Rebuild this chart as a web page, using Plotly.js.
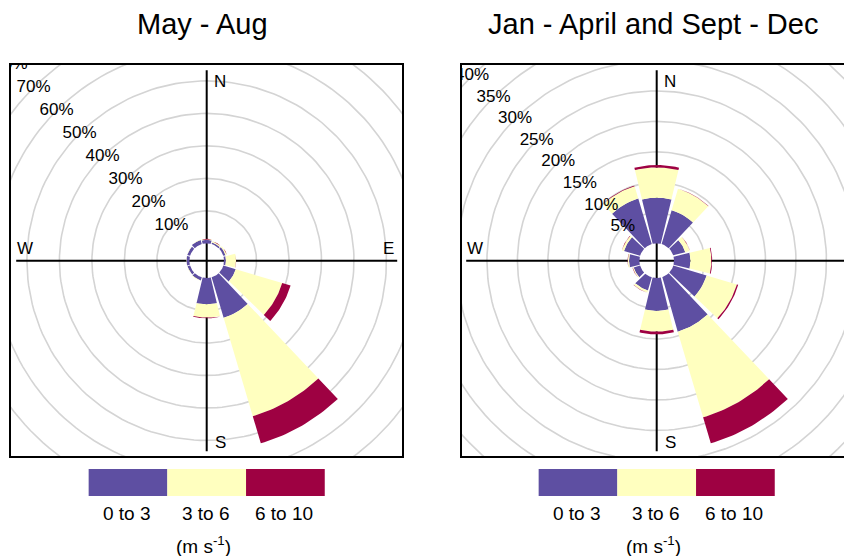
<!DOCTYPE html>
<html><head><meta charset="utf-8">
<script src="https://cdn.plot.ly/plotly-3.0.1.min.js"></script>
<style>html,body{margin:0;padding:0;background:#fff}#chart{width:844px;height:556px}</style>
</head><body><div id="chart"></div>
<script>
// ---------- data (percent of hours, by wind direction sector) ----------
const directions = [0, 30, 60, 90, 120, 150, 180, 210, 240, 270, 300, 330];
const speedBins = ["0 to 3", "3 to 6", "6 to 10"];
const speedUnit = "(m s<sup>-1</sup>)";
const panelTitles = ["May - Aug", "Jan - April and Sept - Dec"];

// May - Aug
const maySlow = [1.1, 0.5, 0.7, 0.6, 4.0, 13.0, 8.1, 1.0, 0.8, 0.9, 0.9, 1.3];
const mayMid  = [0.25, 0.4, 0.4, 3.1, 14.9, 31.6, 4.1, 0.15, 0.1, 0.1, 0.1, 0.15];
const mayHigh = [0.05, 0.05, 0.05, 0.05, 2.7, 8.7, 0.2, 0.0, 0.0, 0.0, 0.0, 0.0];
const mayGrid = [10, 20, 30, 40, 50, 60, 70, 80, 90];

// Jan - April and Sept - Dec
const restSlow = [7.5, 5.8, 2.05, 2.7, 5.7, 9.3, 5.4, 2.25, 1.1, 1.7, 2.75, 7.8];
const restMid  = [4.95, 3.65, 0.75, 3.43, 5.17, 14.65, 3.4, 0.35, 0.15, 0.2, 0.35, 2.1];
const restHigh = [0.4, 0.05, 0.05, 0.13, 0.23, 4.45, 0.44, 0.05, 0.05, 0.05, 0.05, 0.1];
const restGrid = [5, 10, 15, 20, 25, 30, 35, 40, 45];

// ---------- styles / layout geometry ----------
const binColors = ["#5E4FA2", "#FFFFBF", "#9E0142"];
const FONT = "Liberation Sans, Arial, Helvetica, sans-serif";
const W = 844, H = 556;
const RPX = 190.5;          // pixel radius of the longest bar (incl. offset)
const HALF_WIDTH = 13.5;    // half wedge width, degrees

const panels = [
  {title: panelTitles[0], bins: [maySlow, mayMid, mayHigh], grid: mayGrid,
   cx: 206.7, cy: 260.7, left: 10, right: 403, top: 64, bottom: 457, boxRight: 403},
  {title: panelTitles[1], bins: [restSlow, restMid, restHigh], grid: restGrid,
   cx: 656.7, cy: 260.7, left: 461, right: 844, top: 64, bottom: 457, boxRight: 853}
];

const rad = d => d * Math.PI / 180;
const traces = [];
const annotations = [];
const shapes = [];
const layout = {
  width: W, height: H, margin: {l: 0, r: 0, t: 0, b: 0},
  paper_bgcolor: "#fff", plot_bgcolor: "rgba(0,0,0,0)",
  showlegend: false, font: {family: FONT, color: "#000"}
};

panels.forEach((p, pi) => {
  const sfx = pi === 0 ? "" : "2";
  const xa = "x" + sfx, ya = "y" + sfx;
  // totals per direction
  const totals = directions.map((_, i) => p.bins.reduce((s, b) => s + b[i], 0));
  const maxTot = Math.max(...totals);
  const off = 0.1 * maxTot;                 // hole in the middle (openair style)
  const R = off + maxTot;
  const k = RPX / R;                        // px per percent unit

  const axBase = {showgrid: false, zeroline: false, showticklabels: false, ticks: "",
                  showline: false, fixedrange: true};
  layout["xaxis" + sfx] = Object.assign({}, axBase, {
    domain: [p.left / W, p.right / W],
    range: [(p.left - p.cx) / k, (p.right - p.cx) / k], anchor: ya});
  layout["yaxis" + sfx] = Object.assign({}, axBase, {
    domain: [(H - p.bottom) / H, (H - p.top) / H],
    range: [(p.cy - p.bottom) / k, (p.cy - p.top) / k], anchor: xa});

  // grid circles
  const gx = [], gy = [];
  p.grid.forEach(g => {
    const r = off + g;
    for (let a = 0; a <= 360; a += 2) { gx.push(r * Math.sin(rad(a))); gy.push(r * Math.cos(rad(a))); }
    gx.push(null); gy.push(null);
  });
  traces.push({type: "scatter", mode: "lines", x: gx, y: gy, xaxis: xa, yaxis: ya,
    line: {color: "#d4d4d4", width: 1.6}, hoverinfo: "skip"});

  // cross hair
  traces.push({type: "scatter", mode: "lines", x: [-R, R, null, 0, 0], y: [0, 0, null, -R, R],
    xaxis: xa, yaxis: ya, line: {color: "#000", width: 2}, hoverinfo: "skip"});

  // stacked wedges
  const cum = directions.map(() => 0);
  p.bins.forEach((vals, bi) => {
    const x = [], y = [];
    directions.forEach((d, i) => {
      const v = vals[i];
      if (v > 0) {
        const r0 = off + cum[i], r1 = r0 + v;
        const n = 24;
        for (let s = 0; s <= n; s++) {
          const a = rad(d - HALF_WIDTH + 2 * HALF_WIDTH * s / n);
          x.push(r1 * Math.sin(a)); y.push(r1 * Math.cos(a));
        }
        for (let s = n; s >= 0; s--) {
          const a = rad(d - HALF_WIDTH + 2 * HALF_WIDTH * s / n);
          x.push(r0 * Math.sin(a)); y.push(r0 * Math.cos(a));
        }
        x.push(x[x.length - 2 * (n + 1)]); y.push(y[y.length - 2 * (n + 1)]);
        x.push(null); y.push(null);
      }
      cum[i] += v;
    });
    traces.push({type: "scatter", mode: "lines", x: x, y: y, xaxis: xa, yaxis: ya,
      fill: "toself", fillcolor: binColors[bi], line: {width: 0, color: binColors[bi]},
      name: speedBins[bi], hoverinfo: "skip"});
  });

  // percentage labels along the NW diagonal
  traces.push({type: "scatter", mode: "text", xaxis: xa, yaxis: ya,
    x: p.grid.map(g => -(off + g) * Math.SQRT1_2),
    y: p.grid.map(g => (off + g) * Math.SQRT1_2),
    text: p.grid.map(g => g + "%"), textposition: "middle center",
    textfont: {size: 17, color: "#000", family: FONT}, cliponaxis: true, hoverinfo: "skip"});

  // compass letters
  const cl = [
    {t: "N", x: 0, y: R, xanchor: "left", xshift: 5, yshift: -11},
    {t: "S", x: 0, y: -R, xanchor: "left", xshift: 6, yshift: 9},
    {t: "E", x: R, y: 0, xanchor: "center", xshift: -9, yshift: 12.5},
    {t: "W", x: -R, y: 0, xanchor: "center", xshift: 9, yshift: 12.5}
  ];
  cl.forEach(c => annotations.push({text: c.t, x: c.x, y: c.y, xref: xa, yref: ya,
    xanchor: c.xanchor, yanchor: "middle", xshift: c.xshift, yshift: c.yshift,
    showarrow: false, font: {size: 17, family: FONT, color: "#000"}}));

  // frame
  shapes.push({type: "rect", xref: "paper", yref: "paper",
    x0: p.left / W, x1: p.boxRight / W, y0: (H - p.bottom) / H, y1: (H - p.top) / H,
    line: {color: "#000", width: 2}, fillcolor: "rgba(0,0,0,0)", layer: "above"});

  // title
  annotations.push({text: p.title, xref: "paper", yref: "paper", x: (p.cx - 4) / W, y: (H - 24) / H,
    xanchor: "center", yanchor: "middle", showarrow: false, font: {size: 29, family: FONT, color: "#000"}});

  // colour key
  const sw = 78.7, y0 = 469, y1 = 496;
  speedBins.forEach((lab, bi) => {
    const x0 = p.cx - 1.5 * sw + bi * sw;
    shapes.push({type: "rect", xref: "paper", yref: "paper",
      x0: x0 / W, x1: (x0 + sw) / W, y0: (H - y1) / H, y1: (H - y0) / H,
      line: {width: 0}, fillcolor: binColors[bi], layer: "above"});
    annotations.push({text: lab, xref: "paper", yref: "paper", x: (x0 + sw / 2 - 1) / W, y: (H - 513) / H,
      xanchor: "center", yanchor: "middle", showarrow: false, font: {size: 19, family: FONT, color: "#000"}});
  });
  annotations.push({text: speedUnit, xref: "paper", yref: "paper", x: (p.cx - 3) / W, y: (H - 545) / H,
    xanchor: "center", yanchor: "middle", showarrow: false, font: {size: 19, family: FONT, color: "#000"}});
});

layout.annotations = annotations;
layout.shapes = shapes;
Plotly.newPlot("chart", traces, layout, {displayModeBar: false, staticPlot: true});
</script>
</body></html>
